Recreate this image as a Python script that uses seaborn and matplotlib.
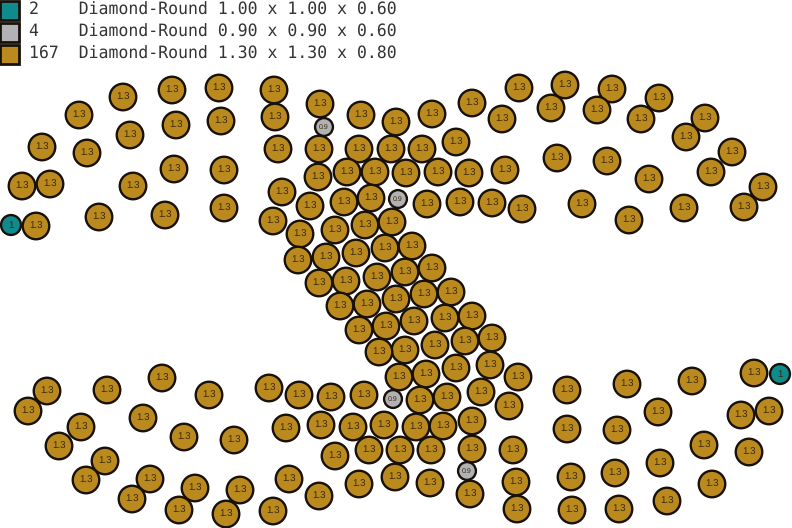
import pandas as pd
import matplotlib.pyplot as plt
from matplotlib.patches import Rectangle
import seaborn as sns

# keep the small decimal points visible
plt.rcParams['text.hinting'] = 'none'

# stone positions, in pixels
gold_x = [79, 123, 172, 219, 274, 275, 221, 176, 130, 87, 42, 278, 224, 174, 133, 50, 22, 224, 165, 99, 36,
          320, 361, 396, 432, 472, 502, 319, 359, 391, 422, 456, 318, 347, 375, 406, 438, 469, 505,
          282, 310, 344, 371, 427, 460, 492, 522, 273, 300, 335, 365, 392, 298, 326, 356, 385, 412,
          432, 405, 377, 346, 319, 451, 424, 396, 367, 340, 472, 445, 414, 386, 359,
          492, 465, 435, 405, 379, 490, 456, 426, 399, 518, 481, 447, 420, 364, 331, 299, 269,
          509, 472, 443, 416, 384, 353, 321, 286, 472, 431, 400, 369, 335, 513,
          516, 395, 430, 359, 289, 319, 470, 517, 273,
          519, 565, 612, 659, 705, 551, 597, 641, 686, 732, 557, 607, 649, 711, 763, 582, 629, 684, 744,
          47, 107, 162, 209, 28, 81, 143, 184, 234, 59, 105, 150, 86, 195, 240, 132, 179, 226,
          567, 627, 692, 754, 658, 741, 769, 567, 617, 704, 749, 660, 571, 615, 712, 572, 619, 667]
gold_y = [115, 97, 90, 88, 90, 117, 121, 125, 135, 153, 147, 149, 170, 169, 186, 184, 186, 208, 215, 217, 226,
          104, 115, 122, 114, 103, 119, 149, 149, 149, 149, 142, 177, 172, 172, 173, 172, 173, 170,
          192, 206, 202, 198, 204, 202, 203, 209, 221, 234, 230, 225, 222, 260, 257, 253, 248, 246,
          268, 272, 277, 281, 283, 292, 294, 299, 304, 306, 316, 318, 321, 326, 330,
          338, 341, 345, 350, 352, 365, 368, 374, 377, 377, 392, 397, 400, 395, 397, 395, 388,
          406, 421, 426, 427, 425, 427, 425, 428, 449, 450, 450, 450, 456, 450,
          482, 477, 483, 484, 479, 496, 494, 509, 511,
          88, 85, 89, 98, 118, 108, 110, 119, 137, 152, 158, 161, 179, 172, 187, 204, 220, 208, 207,
          391, 390, 378, 395, 411, 427, 418, 437, 440, 446, 461, 479, 480, 488, 490, 499, 510, 514,
          390, 384, 381, 373, 412, 415, 411, 429, 430, 445, 452, 463, 477, 473, 484, 510, 509, 501]
gray_x = [324, 398, 393, 467]
gray_y = [127, 199, 399, 471]
teal_x = [11, 780]
teal_y = [225, 374]

# legend table
legend_counts = [2, 4, 167]
legend_shape = 'Diamond-Round'
legend_dims = ['1.00 x 1.00 x 0.60', '0.90 x 0.90 x 0.60', '1.30 x 1.30 x 0.80']
legend_colors = ['#0f8a8d', '#b2b2b6', '#bb8a1f']

df = pd.concat([
    pd.DataFrame({'x': teal_x, 'y': teal_y, 'label': '1', 'stone': 'teal'}),
    pd.DataFrame({'x': gray_x, 'y': gray_y, 'label': '0.9', 'stone': 'gray'}),
    pd.DataFrame({'x': gold_x, 'y': gold_y, 'label': '1.3', 'stone': 'gold'}),
])

fig, ax = plt.subplots(figsize=(7.92, 5.28), dpi=100)
fig.subplots_adjust(0, 0, 1, 1)

sns.scatterplot(data=df, x='x', y='y', hue='stone', size='stone',
                palette={'teal': legend_colors[0], 'gray': legend_colors[1], 'gold': legend_colors[2]},
                sizes={'teal': 205, 'gray': 165, 'gold': 365},
                edgecolor='#17110a', linewidth=1.7, legend=False, ax=ax, clip_on=False)

for row in df.itertuples():
    size = 5 if row.label == '0.9' else 7
    ax.text(row.x, row.y, row.label, fontsize=size, ha='center', va='center', color='#3a2a08', family='Liberation Sans')

# legend squares and text sit on the pixel grid too
square_top = [1, 23, 45]
text_y = [10, 32, 54]
for i in range(3):
    ax.add_patch(Rectangle((0, square_top[i]), 18.5, 18.5, facecolor=legend_colors[i], edgecolor='#17110a', linewidth=2, clip_on=False))
    ax.text(29, text_y[i], f'{legend_counts[i]:<5}{legend_shape} {legend_dims[i]}', fontsize=11.9,
            family='DejaVu Sans Mono', ha='left', va='center', color='#333333')

ax.set_xlim(0, 792)
ax.set_ylim(528, 0)
ax.axis('off')
fig.savefig('out.png', dpi=100)
